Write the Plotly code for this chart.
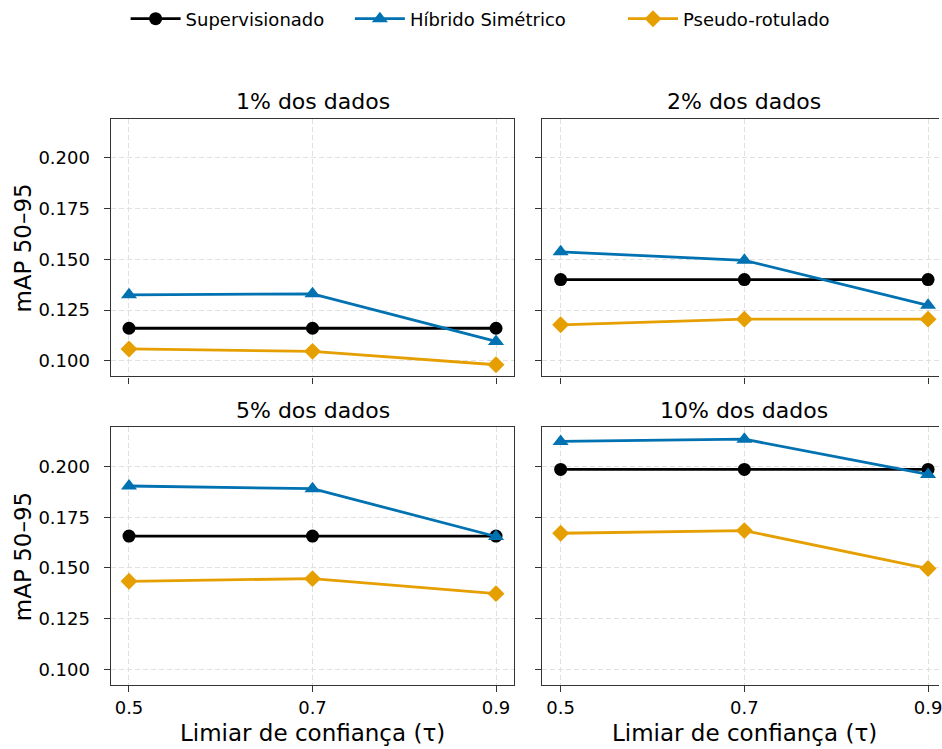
import plotly.graph_objects as go

# Confidence thresholds (x axis) and label-fraction panels
tau = [0.5, 0.7, 0.9]
panel_titles = ["1% dos dados", "2% dos dados", "5% dos dados", "10% dos dados"]

# mAP 50-95 per panel, one list per method
supervisionado_1 = [0.116, 0.116, 0.116]
supervisionado_2 = [0.140, 0.140, 0.140]
supervisionado_5 = [0.1657, 0.1657, 0.1657]
supervisionado_10 = [0.1986, 0.1986, 0.1986]

hibrido_1 = [0.1325, 0.1330, 0.1095]
hibrido_2 = [0.1537, 0.1495, 0.1273]
hibrido_5 = [0.1904, 0.1891, 0.1655]
hibrido_10 = [0.2124, 0.2135, 0.1961]

pseudo_1 = [0.1058, 0.1046, 0.0980]
pseudo_2 = [0.1177, 0.1205, 0.1205]
pseudo_5 = [0.1434, 0.1447, 0.1373]
pseudo_10 = [0.1671, 0.1684, 0.1497]

y_ticks = [0.100, 0.125, 0.150, 0.175, 0.200]
x_ticks = [0.5, 0.7, 0.9]
x_tick_text = ["0.5", "0.7", "0.9"]

series = [
    ("Supervisionado", "#000000", "circle", 13,
     [supervisionado_1, supervisionado_2, supervisionado_5, supervisionado_10]),
    ("Híbrido Simétrico", "#0072B2", "triangle-up", 14,
     [hibrido_1, hibrido_2, hibrido_5, hibrido_10]),
    ("Pseudo-rotulado", "#E69F00", "diamond", 13,
     [pseudo_1, pseudo_2, pseudo_5, pseudo_10]),
]

W, H = 942, 749
FONT = "DejaVu Sans"

# panel boxes in pixels: (left, right, top, bottom)
boxes = [
    (111, 516, 118, 376),
    (544, 942, 118, 376),
    (111, 516, 427, 685),
    (544, 942, 427, 685),
]
x_ranges = [[0.48, 0.92], [0.48, 0.9119], [0.48, 0.92], [0.48, 0.9119]]
y_range = [0.0922, 0.2193]

# one legend box per method, laid out in a row above the panels
legend_ids = ["legend", "legend2", "legend3"]
legend_left_px = [126, 351, 625]

fig = go.Figure()

for i in range(4):
    ax = "" if i == 0 else str(i + 1)
    for k, (name, color, symbol, size, vals) in enumerate(series):
        fig.add_trace(go.Scatter(
            x=tau, y=vals[i], name=name, mode="lines+markers",
            line=dict(color=color, width=2.8),
            marker=dict(symbol=symbol, size=size, color=color,
                        line=dict(width=0)),
            xaxis="x" + ax, yaxis="y" + ax,
            showlegend=(i == 0), legend=legend_ids[k],
            legendgroup=name, cliponaxis=False,
        ))

axis_common = dict(
    showline=True, linecolor="#333333", linewidth=1.25,
    ticks="outside", ticklen=6, tickwidth=1.25, tickcolor="#333333",
    showgrid=True, gridcolor="#e0e0e0", gridwidth=1, griddash="5px,3px",
    zeroline=False, tickfont=dict(family=FONT, size=18, color="#000000"),
    ticklabeloverflow="allow",
)

layout = {}
for i, (l, r, t, b) in enumerate(boxes):
    ax = "" if i == 0 else str(i + 1)
    col_right = i in (1, 3)
    top_row = i in (0, 1)
    layout["xaxis" + ax] = dict(
        axis_common,
        domain=[l / W, r / W], range=x_ranges[i],
        anchor="y" + ax, tickvals=x_ticks, ticktext=x_tick_text,
        showticklabels=not top_row, mirror=True, ticklabelstandoff=0,
    )
    layout["yaxis" + ax] = dict(
        axis_common,
        domain=[(H - b) / H, (H - t) / H], range=y_range,
        anchor="x" + ax, tickvals=y_ticks, tickformat=".3f",
        showticklabels=not col_right, mirror=not col_right,
        ticklabelstandoff=10,
    )

annotations = []
for i, (l, r, t, b) in enumerate(boxes):
    cx = ((l + r) / 2) if i in (0, 2) else 746.5
    annotations.append(dict(
        text=panel_titles[i], x=cx / W, y=(H - (t - 17)) / H,
        xref="paper", yref="paper", xanchor="center", yanchor="middle",
        showarrow=False, font=dict(family=FONT, size=22, color="#000000"),
    ))

for cy in (247, 556):
    annotations.append(dict(
        text="mAP 50–95", x=23 / W, y=(H - cy) / H, textangle=-90,
        xref="paper", yref="paper", xanchor="center", yanchor="middle",
        showarrow=False, font=dict(family=FONT, size=23, color="#000000"),
    ))

for cx in (313.5, 746.5):
    annotations.append(dict(
        text="Limiar de confiança (τ)", x=cx / W, y=(H - 733) / H,
        xref="paper", yref="paper", xanchor="center", yanchor="middle",
        showarrow=False, font=dict(family=FONT, size=23, color="#000000"),
    ))

legend_style = dict(
    orientation="h", y=(H - 18) / H, xanchor="left", yanchor="middle",
    font=dict(family=FONT, size=18, color="#000000"),
    bgcolor="rgba(0,0,0,0)", itemwidth=50,
)
for lid, px in zip(legend_ids, legend_left_px):
    layout[lid] = dict(legend_style, x=px / W)

fig.update_layout(
    **layout,
    annotations=annotations,
    width=W, height=H,
    margin=dict(l=0, r=0, t=0, b=0, pad=0),
    paper_bgcolor="white", plot_bgcolor="white",
    font=dict(family=FONT, color="#000000"),
)

fig.write_html("out.html")
